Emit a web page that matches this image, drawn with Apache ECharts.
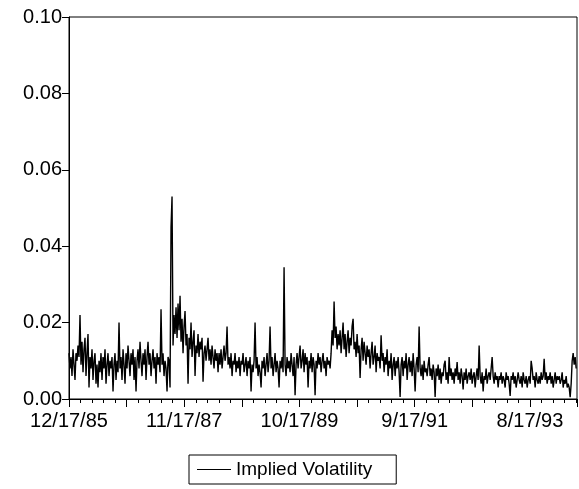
<!DOCTYPE html>
<html>
<head>
<meta charset="utf-8">
<script src="https://cdn.jsdelivr.net/npm/echarts@6/dist/echarts.min.js"></script>
<style>html,body{margin:0;padding:0;background:#fff;}#c{width:579px;height:489px;}</style>
</head>
<body>
<div id="c"></div>
<script>
// Implied volatility, sampled roughly every 4.34 trading observations
const seriesName = 'Implied Volatility';
const dateLabels = ['12/17/85','11/17/87','10/17/89','9/17/91','8/17/93'];
const labelEvery = 500;          // observations between dated labels
const obsPerPoint = 4.34;        // observations represented by each sample
const totalObs = 2204;
const yTicks = [0, 0.02, 0.04, 0.06, 0.08, 0.10];
const impliedVol = [
.012,.008,.011,.006,.013,.009,.005,.012,.010,.014,
.011,.022,.009,.015,.007,.013,.016,.006,.012,.017,
.003,.011,.008,.013,.005,.010,.012,.004,.009,.003,
.010,.007,.012,.005,.011,.008,.013,.004,.009,.012,
.006,.010,.008,.011,.002,.009,.012,.005,.010,.007,
.020,.008,.011,.005,.013,.009,.004,.012,.008,.014,
.010,.006,.012,.009,.013,.005,.011,.002,.010,.013,
.008,.015,.010,.006,.012,.009,.013,.005,.011,.015,
.009,.012,.006,.010,.013,.008,.011,.004,.012,.009,
.011,.007,.0235,.009,.012,.006,.010,.008,.002,.011,
.010,.003,.045,.053,.014,.022,.017,.024,.016,.025,
.018,.027,.015,.021,.012,.019,.023,.014,.017,.004,
.016,.013,.020,.011,.015,.018,.006,.014,.012,.017,
.011,.015,.013,.016,.0045,.012,.014,.010,.013,.016,
.010,.013,.009,.014,.011,.008,.013,.010,.012,.007,
.012,.009,.013,.008,.011,.014,.010,.012,.019,.009,
.011,.008,.012,.006,.010,.009,.012,.007,.010,.008,
.011,.006,.010,.009,.012,.007,.009,.011,.006,.010,
.008,.011,.002,.009,.007,.010,.020,.008,.011,.006,
.009,.007,.003,.010,.008,.011,.006,.009,.012,.007,
.010,.019,.008,.011,.006,.009,.012,.007,.010,.008,
.003,.010,.008,.011,.007,.0345,.009,.006,.011,.008,
.010,.007,.012,.009,.006,.011,.001,.009,.012,.008,
.011,.014,.008,.010,.013,.007,.012,.009,.011,.003,
.010,.008,.012,.007,.011,.009,.001,.010,.008,.012,
.009,.011,.007,.010,.012,.008,.010,.006,.011,.009,
.010,.008,.012,.018,.014,.0255,.016,.019,.013,.017,
.014,.018,.012,.016,.020,.013,.017,.011,.015,.018,
.012,.016,.014,.019,.021,.013,.015,.011,.017,.012,
.014,.0055,.013,.016,.010,.015,.012,.009,.014,.011,
.013,.008,.012,.015,.009,.011,.014,.007,.012,.010,
.011,.008,.0167,.010,.012,.007,.011,.009,.013,.006,
.010,.008,.012,.005,.009,.011,.006,.010,.008,.011,
.007,.0005,.009,.011,.006,.010,.008,.012,.005,.009,
.011,.007,.010,.006,.012,.008,.002,.009,.011,.007,
.019,.008,.006,.009,.005,.010,.007,.008,.006,.009,
.011,.006,.008,.005,.009,.007,.0005,.008,.006,.009,
.005,.008,.004,.007,.006,.009,.010,.005,.007,.004,
.011,.006,.008,.005,.007,.004,.008,.006,.0097,.005,
.007,.004,.008,.006,.0025,.007,.005,.008,.004,.006,
.007,.005,.008,.004,.006,.007,.003,.006,.008,.005,
.014,.006,.004,.007,.002,.006,.005,.008,.004,.006,
.007,.005,.008,.011,.006,.004,.007,.005,.006,.003,
.006,.005,.007,.004,.006,.005,.003,.007,.005,.006,
.004,.0008,.006,.005,.007,.004,.006,.003,.005,.007,
.005,.004,.006,.003,.007,.005,.004,.006,.003,.005,
.006,.004,.010,.008,.005,.006,.003,.007,.005,.004,
.006,.004,.007,.005,.006,.0105,.005,.007,.004,.006,
.005,.007,.004,.006,.003,.005,.007,.004,.006,.005,
.006,.004,.005,.007,.003,.005,.004,.006,.003,.004,
.003,.0005,.004,.010,.012,.009,.011,.008
];

const font = 'Liberation Sans, Arial, sans-serif';
const chart = echarts.init(document.getElementById('c'), null, {renderer: 'canvas'});
chart.setOption({
  animation: false,
  backgroundColor: '#fff',
  grid: {left: 69, right: 2, top: 17, height: 382, show: true, borderColor: '#000', borderWidth: 1, backgroundColor: 'transparent'},
  xAxis: {
    type: 'value', min: 0, max: totalObs, interval: 250,
    axisLine: {show: true, onZero: false, lineStyle: {color: '#000', width: 1}},
    axisTick: {show: true, length: 8, lineStyle: {color: '#000'}},
    minorTick: {show: true, splitNumber: 5, length: 4, lineStyle: {color: '#000'}},
    splitLine: {show: false},
    axisLabel: {
      color: '#000', fontFamily: font, fontSize: 20, margin: 12,
      showMaxLabel: false,
      formatter: v => (v % labelEvery === 0 ? (dateLabels[v / labelEvery] || '') : '')
    }
  },
  yAxis: {
    type: 'value', min: yTicks[0], max: yTicks[yTicks.length - 1], interval: 0.02,
    axisLine: {show: true, lineStyle: {color: '#000', width: 1}},
    axisTick: {show: true, length: 7, lineStyle: {color: '#000'}},
    splitLine: {show: false},
    axisLabel: {color: '#000', fontFamily: font, fontSize: 20, margin: 7, formatter: v => v.toFixed(2)}
  },
  legend: {
    left: 189, top: 455,
    data: [{name: seriesName, icon: 'rect'}],
    itemWidth: 34, itemHeight: 1.2, itemGap: 0,
    padding: [5, 24, 5, 8],
    borderColor: '#000', borderWidth: 1,
    textStyle: {color: '#000', fontFamily: font, fontSize: 19}
  },
  series: [{
    name: seriesName, type: 'line', symbol: 'none', showSymbol: false,
    lineStyle: {color: '#000', width: 1.4}, itemStyle: {color: '#000'},
    data: impliedVol.map((v, i) => [i * obsPerPoint, v])
  }]
});
</script>
</body>
</html>
